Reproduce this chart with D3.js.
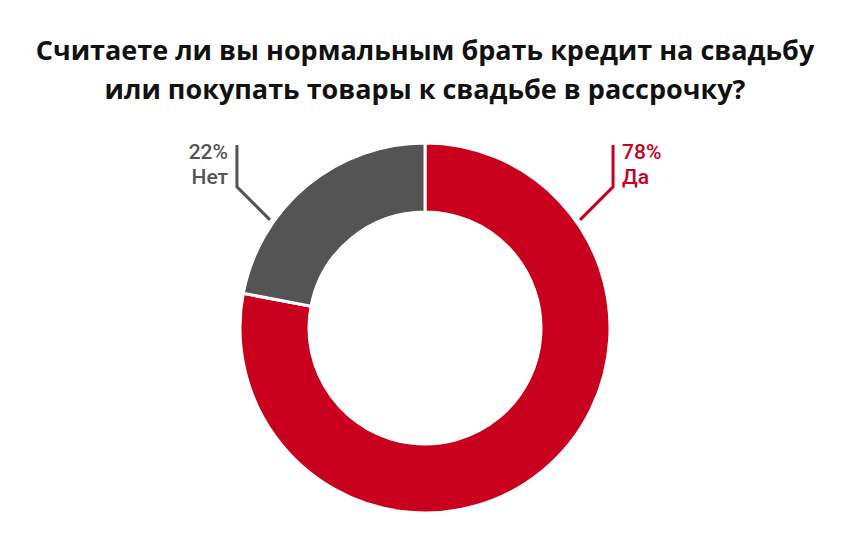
<!DOCTYPE html>
<html>
<head>
<meta charset="utf-8">
<script src="https://cdn.jsdelivr.net/npm/d3@7"></script>
<style>
  body { margin: 0; background: #fff; }
  svg { display: block; font-family: "Open Sans", "Noto Sans", sans-serif; }
</style>
</head>
<body>
<svg id="chart" width="850" height="550"></svg>
<script>
const titleLines = [
  "Считаете ли вы нормальным брать кредит на свадьбу",
  "или покупать товары к свадьбе в рассрочку?"
];
const categories = ["Да", "Нет"];
const values = [78, 22];
const colors = ["#c8001e", "#545454"];

const width = 850, height = 550;
const cx = 425, cy = 328;
const outerR = 185, innerR = 116;

const svg = d3.select("#chart");

// title
svg.append("g")
  .selectAll("text")
  .data(titleLines)
  .enter()
  .append("text")
    .attr("x", width / 2)
    .attr("y", (d, i) => 60 + i * 39)
    .attr("text-anchor", "middle")
    .attr("font-size", 27)
    .attr("font-weight", 700)
    .attr("fill", "#111")
    .text(d => d);

const data = categories.map((c, i) => ({ name: c, value: values[i], color: colors[i] }));

const pie = d3.pie()
  .value(d => d.value)
  .sort(null);

const arc = d3.arc()
  .innerRadius(innerR)
  .outerRadius(outerR);

const arcs = pie(data);

const g = svg.append("g").attr("transform", `translate(${cx},${cy})`);

g.selectAll("path")
  .data(arcs)
  .enter()
  .append("path")
    .attr("d", arc)
    .attr("fill", d => d.data.color)
    .attr("stroke", "#fff")
    .attr("stroke-width", 3);

// leader lines + labels, mirrored on each side of the top
arcs.forEach((d, i) => {
  const side = i === 0 ? 1 : -1;
  const a = side * 0.962;   // angle from 12 o'clock where the line touches the ring
  const r0 = outerR + 4;
  const p0 = [Math.sin(a) * r0, -Math.cos(a) * r0];
  const p1 = [p0[0] + side * 33, p0[1] - 33];
  const p2 = [p1[0], p1[1] - 42];
  const lineColor = d.data.color;

  g.append("polyline")
    .attr("points", [p0, p1, p2].map(p => p.join(",")).join(" "))
    .attr("fill", "none")
    .attr("stroke", lineColor)
    .attr("stroke-width", 3);

  const tx = p1[0] + side * 9;
  const lines = [d.data.value + "%", d.data.name];
  lines.forEach((t, j) => {
    g.append("text")
      .attr("x", tx)
      .attr("y", -169 + j * 25)
      .attr("text-anchor", side === 1 ? "start" : "end")
      .attr("font-family", "Roboto, sans-serif")
      .attr("font-size", 21)
      .attr("font-weight", 500)
      .attr("fill", lineColor)
      .text(t);
  });
});
</script>
</body>
</html>
